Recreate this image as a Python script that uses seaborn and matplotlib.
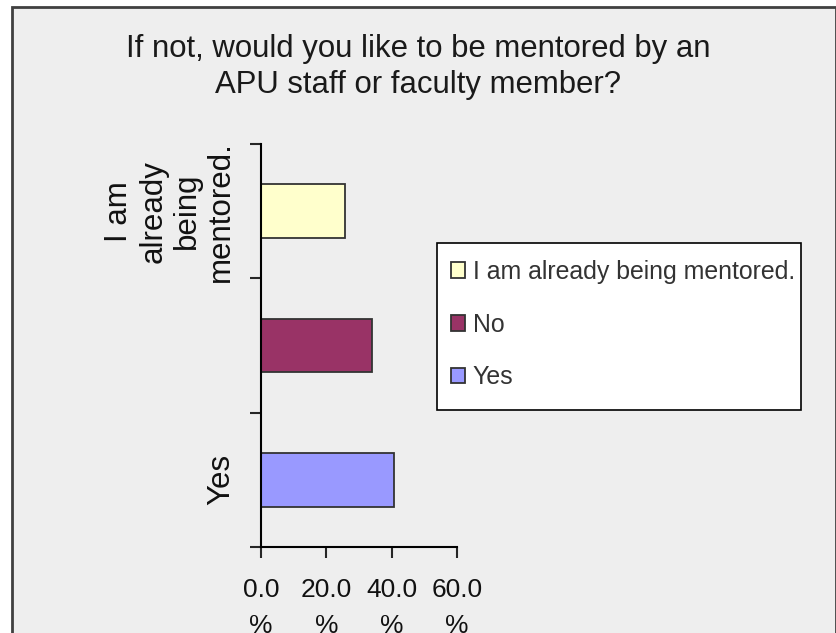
import pandas as pd
import seaborn as sns
import matplotlib.pyplot as plt
from matplotlib.patches import Rectangle, Patch

# Chart data
answers = ["I am already being mentored.", "No", "Yes"]
percents = [25.6, 33.9, 40.7]
bar_colors = ["#FFFFCC", "#993366", "#9999FF"]
y_labels = ["I am\nalready\nbeing\nmentored.", "", "Yes"]
x_ticks = [0, 20, 40, 60]
x_labels = ["0.0\n%", "20.0\n%", "40.0\n%", "60.0\n%"]
title = "If not, would you like to be mentored by an\nAPU staff or faculty member?"

df = pd.DataFrame({"answer": answers, "pct": percents})

sns.set_style("ticks")
plt.rcParams["font.family"] = ["Liberation Sans", "DejaVu Sans"]

W, H = 837, 633
fig = plt.figure(figsize=(W / 100, H / 100), dpi=100)
fig.patch.set_facecolor("white")

# grey chart area with dark border (Excel style)
frame = Rectangle((12 / W, -0.05), (836 - 12) / W, (H - 7) / H + 0.05,
                  transform=fig.transFigure, facecolor="#eeeeee",
                  edgecolor="#404040", linewidth=2, zorder=-10)
fig.patches.append(frame)

ax = fig.add_axes([261 / W, 1 - 547 / H, 196 / W, 403 / H])
ax.set_facecolor("none")

sns.barplot(data=df, y="answer", x="pct", hue="answer", order=answers,
            hue_order=answers, palette=bar_colors, width=0.4, dodge=False,
            saturation=1, edgecolor="#333333", linewidth=1.3, orient="h",
            legend=False, ax=ax)

ax.set_xlim(0, 60)
ax.set_ylim(2.5, -0.5)
ax.set_xlabel("")
ax.set_ylabel("")

ax.set_xticks(x_ticks)
ax.set_xticklabels(x_labels, fontsize=19, color="#111111")
for t in ax.get_xticklabels():
    t.set_linespacing(1.65)

# ticks between categories, labels at category centres
ax.set_yticks([-0.5, 0.5, 1.5, 2.5])
ax.set_yticklabels([])
ax.set_yticks([0, 1, 2], minor=True)
ax.set_yticklabels(y_labels, minor=True, fontsize=22.5, rotation=90,
                   va="center", ha="right", multialignment="center",
                   color="#111111")
for t in ax.get_yticklabels(minor=True):
    t.set_linespacing(1.17)
ax.tick_params(axis="y", which="minor", length=0, pad=18)
ax.tick_params(axis="y", which="major", length=8, width=1.5, direction="out")
ax.tick_params(axis="x", length=8, width=1.5, direction="out", pad=14)

sns.despine(ax=ax)
for s in ["left", "bottom"]:
    ax.spines[s].set_color("black")
    ax.spines[s].set_linewidth(1.5)

# legend box drawn separately so its padding matches the Excel one
legend_box = Rectangle((437 / W, 1 - 410 / H), (801 - 437) / W, (410 - 243) / H,
                       transform=fig.transFigure, facecolor="white",
                       edgecolor="black", linewidth=1.2, zorder=3)
fig.patches.append(legend_box)

handles = [Patch(facecolor=c, edgecolor="#333333", linewidth=1.3)
           for c in bar_colors]
leg = fig.legend(handles, answers, loc="upper left",
                 bbox_to_anchor=(451 / W, 1 - 260 / H), fontsize=17.9,
                 frameon=False, labelspacing=1.15,
                 handlelength=0.58, handleheight=0.58, handletextpad=0.3,
                 borderpad=0, borderaxespad=0, labelcolor="#333333")
leg.set_zorder(5)

fig.text(0.5, 1 - 67 / H, title, ha="center", va="center", fontsize=22.4,
         color="#1a1a1a", linespacing=1.25)

fig.savefig("out.png", dpi=100)
